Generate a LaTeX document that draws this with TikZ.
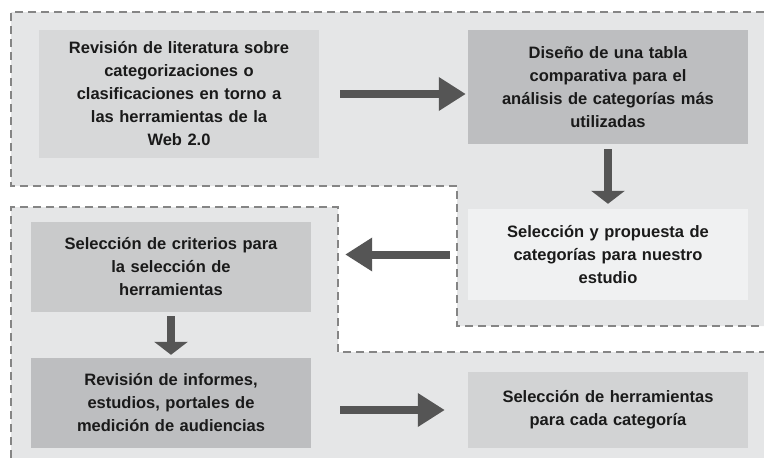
\documentclass[tikz,border=0pt]{standalone}
\usepackage{fontspec}
\setmainfont{Liberation Sans}
\usetikzlibrary{arrows.meta}
\usetikzlibrary{positioning}
\definecolor{zonegray}{HTML}{E5E6E7}
\definecolor{dashgray}{HTML}{858585}
\definecolor{arrowgray}{HTML}{555555}
\definecolor{textgray}{HTML}{1A1A1A}
\definecolor{boxlight}{HTML}{D7D8D9}
\definecolor{boxdark}{HTML}{BDBEC0}
\definecolor{boxpale}{HTML}{F0F1F2}
\definecolor{boxmid}{HTML}{C9CACB}
\definecolor{boxsoft}{HTML}{D2D3D4}

\begin{document}
\begin{tikzpicture}[x=1pt,y=-1pt]
\tikzstyle{stage}=[inner sep=0pt,minimum width=280pt,text width=276pt,align=center,
  font=\fontsize{16.5}{23}\selectfont\bfseries,text=textgray]
\tikzstyle{bigarrow}=[arrowgray,line width=8pt,-{Triangle[length=27pt,width=32pt]}]
\tikzstyle{downarrow}=[arrowgray,line width=8pt,-{Triangle[length=13pt,width=33pt]}]
\tikzstyle{zoneline}=[dashgray,line width=2.5pt,dash pattern=on 8pt off 5pt]
\useasboundingbox (0,0) rectangle (764,458);

% zones
\fill[zonegray] (11,12) -- (764,12) -- (764,326) -- (457,326) -- (457,186) -- (11,186) -- cycle;
\fill[zonegray] (11,207) -- (338,207) -- (338,352) -- (764,352) -- (764,458) -- (11,458) -- cycle;
\draw[zoneline] (764,12) -- (11,12) -- (11,186) -- (457,186) -- (457,326) -- (764,326);
\draw[zoneline] (11,458) -- (11,207) -- (338,207) -- (338,352) -- (764,352);

% stages
\node [stage,fill=boxlight,minimum height=128pt] (lit) at (179,94)
  {Revisión de literatura sobre\\ categorizaciones o\\ clasificaciones en torno a\\ las herramientas de la\\ Web 2.0};
\node [stage,fill=boxdark,minimum height=114pt] (tabla) at (608,87)
  {Diseño de una tabla\\ comparativa para el\\ análisis de categorías más\\ utilizadas};
\node [stage,fill=boxpale,minimum height=91pt] (propuesta) at (608,254.5)
  {Selección y propuesta de\\ categorías para nuestro\\ estudio};
\node [stage,fill=boxmid,minimum height=90pt] (criterios) at (171,267)
  {Selección de criterios para\\ la selección de\\ herramientas};
\node [stage,fill=boxdark,minimum height=90pt] (informes) at (171,403)
  {Revisión de informes,\\ estudios, portales de\\ medición de audiencias};
\node [stage,fill=boxsoft,minimum height=76pt] (herramientas) at (608,410)
  {Selección de herramientas\\ para cada categoría};

% arrows
\draw[bigarrow] ([xshift=21pt]lit.east) -- ([xshift=21pt]lit.east -| tabla.west) [shorten >=23pt];
\draw[downarrow,shorten <=5pt,shorten >=5pt] (tabla.south) -- (propuesta.north);
\draw[bigarrow,shorten <=18pt,shorten >=34pt] (propuesta.west) -- (propuesta.west -| criterios.east);
\draw[downarrow,shorten <=4pt,shorten >=3pt] (criterios.south) -- (informes.north);
\draw[bigarrow,shorten <=29pt,shorten >=23pt] (herramientas.west -| informes.east) -- (herramientas.west);
\end{tikzpicture}
\end{document}
